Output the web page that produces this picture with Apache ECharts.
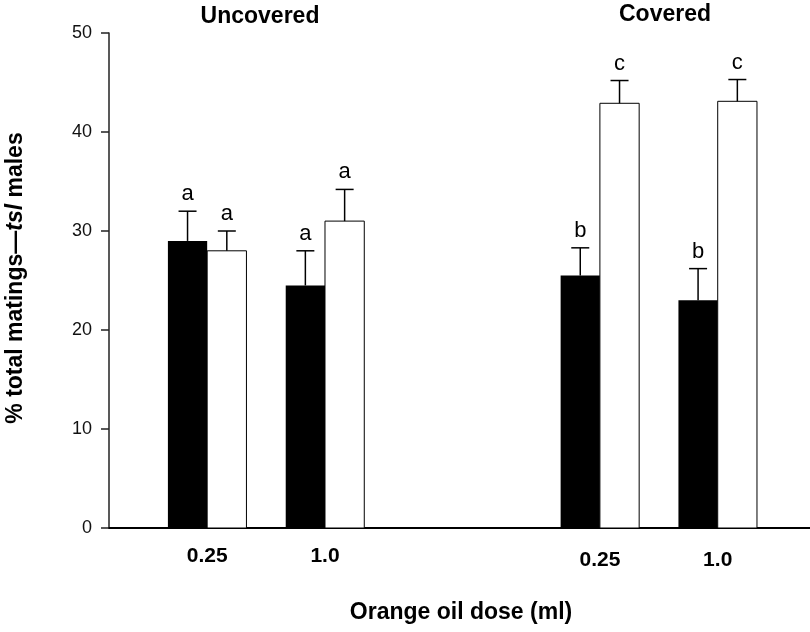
<!DOCTYPE html>
<html><head><meta charset="utf-8">
<script src="https://cdn.jsdelivr.net/npm/echarts@6/dist/echarts.min.js"></script>
<style>html,body{margin:0;padding:0;background:#fff}#c{width:810px;height:632px}</style>
</head><body><div id="c"></div>
<script>
// ---- data ----
const doses = ['0.25', '1.0', '0.25', '1.0'];
const groupNames = ['Uncovered', 'Covered'];
const doseGroup = [0, 0, 1, 1];
const blackValues = [29.0, 24.5, 25.5, 23.0];
const blackUpper  = [32.0, 28.0, 28.3, 26.2];
const whiteValues = [28.0, 31.0, 42.9, 43.1];
const whiteUpper  = [30.0, 34.2, 45.2, 45.3];
const blackLetters = ['a', 'a', 'b', 'b'];
const whiteLetters = ['a', 'a', 'c', 'c'];
const yTicks = [0, 10, 20, 30, 40, 50];

// ---- layout (slot units on hidden value axis) ----
const groupX = [2.5, 5.5, 12.5, 15.5];
const FONT = '"Liberation Sans", Arial, Helvetica, sans-serif';

function makeSeries(values, upper, letters, offset, fill, stroke) {
  return {
    type: 'custom',
    coordinateSystem: 'cartesian2d',
    clip: false,
    data: values.map((v, i) => [groupX[i] + offset, v, upper[i]]),
    renderItem: function (params, api) {
      const x = api.value(0), v = api.value(1), up = api.value(2);
      const letter = letters[params.dataIndex];
      const base = api.coord([x, 0]);
      const top = api.coord([x, v]);
      const errTop = api.coord([x, up]);
      const w = api.size([1, 0])[0];
      const capW = 18;
      return {
        type: 'group', children: [
          { type: 'rect', shape: { x: base[0] - w / 2, y: top[1], width: w, height: base[1] - top[1] },
            style: { fill: fill, stroke: stroke, lineWidth: stroke ? 1 : 0 } },
          { type: 'line', shape: { x1: top[0], y1: top[1], x2: errTop[0], y2: errTop[1] },
            style: { stroke: '#000', lineWidth: 1.5 } },
          { type: 'line', shape: { x1: errTop[0] - capW / 2, y1: errTop[1], x2: errTop[0] + capW / 2, y2: errTop[1] },
            style: { stroke: '#000', lineWidth: 1.5 } },
          { type: 'text', x: errTop[0], y: errTop[1] - 6,
            style: { text: letter, fill: '#000', font: '22px ' + FONT, align: 'center', verticalAlign: 'bottom' } }
        ]
      };
    }
  };
}

const chart = echarts.init(document.getElementById('c'), null, { renderer: 'canvas' });
chart.setOption({
  animation: false,
  backgroundColor: '#fff',
  grid: { left: 109, right: 0, top: 33, bottom: 104, containLabel: false },
  xAxis: {
    type: 'value', min: 0, max: 17.85,
    splitLine: { show: false },
    axisTick: { show: false },
    axisLine: { show: true, onZero: true, lineStyle: { color: '#000', width: 2 } },
    axisLabel: {
      customValues: groupX,
      formatter: function (val) {
        const i = groupX.indexOf(val);
        if (i < 0) return '';
        return (doseGroup[i] === 0 ? '{u|' : '{c|') + doses[i] + '}';
      },
      color: '#000', fontWeight: 'bold', fontSize: 21, fontFamily: FONT, margin: 18,
      rich: {
        u: { color: '#000', fontWeight: 'bold', fontSize: 21, fontFamily: FONT, padding: [0, 0, 0, 0] },
        c: { color: '#000', fontWeight: 'bold', fontSize: 21, fontFamily: FONT, padding: [4, 0, 0, 0] }
      }
    }
  },
  yAxis: {
    type: 'value', min: 0, max: 50, interval: 10,
    splitLine: { show: false },
    axisLine: { show: true, lineStyle: { color: '#222', width: 1.5 } },
    axisTick: { show: true, length: 8, lineStyle: { color: '#222', width: 1.5 } },
    axisLabel: { color: '#111', fontSize: 18, fontFamily: FONT, margin: 17,
      formatter: function (v) { return yTicks.indexOf(v) >= 0 ? String(v) : ''; } }
  },
  graphic: [
    { type: 'text', x: 260, y: 17, style: { text: groupNames[0], font: 'bold 23px ' + FONT, fill: '#000', align: 'center', verticalAlign: 'middle' } },
    { type: 'text', x: 665, y: 15, style: { text: groupNames[1], font: 'bold 23px ' + FONT, fill: '#000', align: 'center', verticalAlign: 'middle' } },
    { type: 'text', x: 461, y: 613, style: { text: 'Orange oil dose (ml)', font: 'bold 23px ' + FONT, fill: '#000', align: 'center', verticalAlign: 'middle' } },
    { type: 'text', x: 16, y: 278, rotation: Math.PI / 2,
      style: {
        text: '{n|% total matings—}{i|tsl}{n| males}',
        align: 'center', verticalAlign: 'middle',
        rich: {
          n: { fontSize: 23, fontWeight: 'bold', fontFamily: FONT, fill: '#000', color: '#000' },
          i: { fontSize: 23, fontWeight: 'bold', fontStyle: 'italic', fontFamily: FONT, fill: '#000', color: '#000' }
        }
      } }
  ],
  series: [
    makeSeries(blackValues, blackUpper, blackLetters, -0.5, '#000', null),
    makeSeries(whiteValues, whiteUpper, whiteLetters, 0.5, '#fff', '#000')
  ]
});
</script>
</body></html>
